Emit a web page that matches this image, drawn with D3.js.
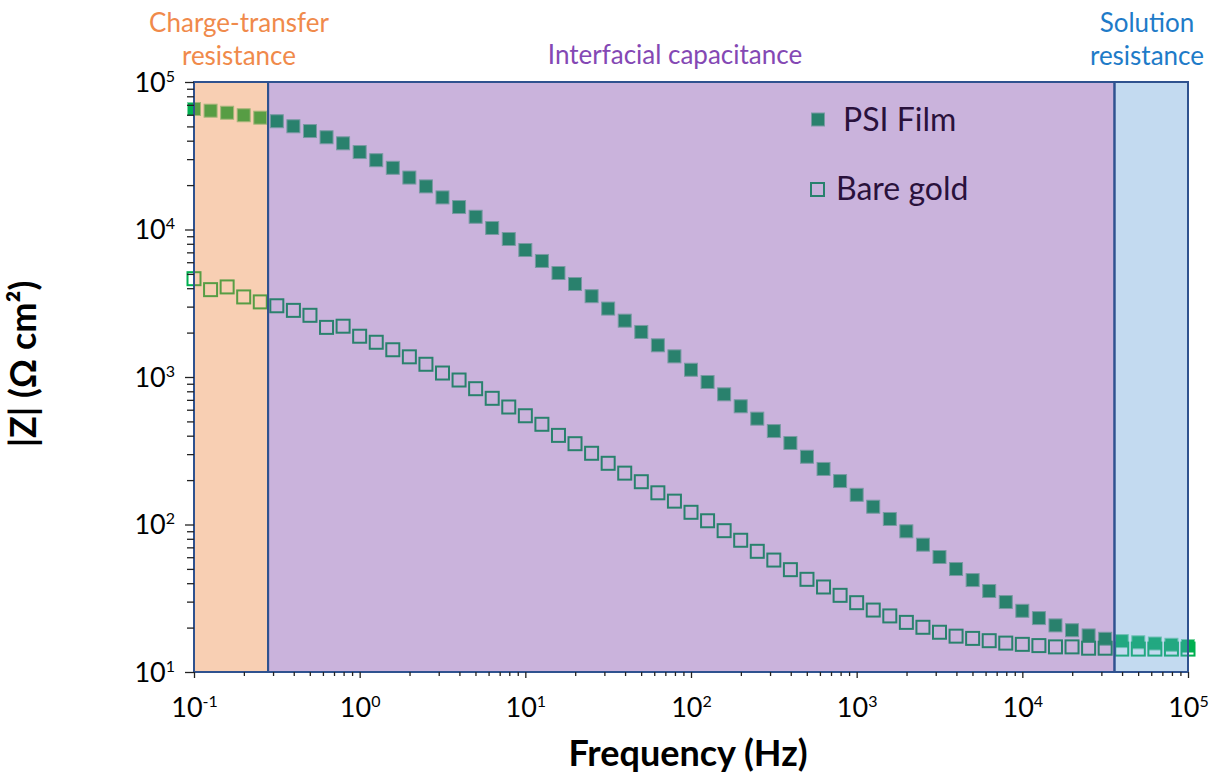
<!DOCTYPE html>
<html>
<head>
<meta charset="utf-8">
<script src="https://cdn.jsdelivr.net/npm/d3@7"></script>
<style>
  body { margin: 0; background: #fff; }
  svg { display: block; font-family: Lato, "Open Sans", sans-serif; }
</style>
</head>
<body>
<div id="chart"></div>
<script>
// frequency sweep (Hz), 10 points per decade
const freq = [0.1,0.1259,0.1585,0.1995,0.2512,0.3162,0.3981,0.5012,0.631,0.7943,
  1,1.259,1.585,1.995,2.512,3.162,3.981,5.012,6.31,7.943,
  10,12.59,15.85,19.95,25.12,31.62,39.81,50.12,63.1,79.43,
  100,125.9,158.5,199.5,251.2,316.2,398.1,501.2,631,794.3,
  1000,1259,1585,1995,2512,3162,3981,5012,6310,7943,
  10000,12590,15850,19950,25120,31620,39810,50120,63100,79430,100000]

// |Z| (ohm cm2)
const psiFilm = [65600,63900,61900,59500,57300,54200,50100,46500,42200,38400,
  33500,29500,26200,22500,19600,16500,14200,12200,10240,8620,
  7260,6120,5070,4270,3530,2910,2410,2020,1640,1380,
  1120,925,763,633,522,430,357,288,238,197,
  159,132,109,89.9,73,60.2,49.9,42,35.4,29.8,
  26,23.2,20.7,19.2,17.7,16.8,16.2,15.9,15.6,15.3,15.0]

const bareGold = [4640,3910,4080,3490,3230,3040,2830,2620,2170,2210,
  1890,1720,1530,1370,1220,1064,954,833,717,626,
  546,478,402,353,304,260,223,195,164,144,
  121,106,90.8,78.2,65.8,57.4,49.4,42.5,37.7,33.1,
  29.5,26.3,24,21.7,20.1,18.6,17.5,16.9,16.3,15.7,
  15.4,15.1,14.8,14.8,14.5,14.5,14.3,14.3,14.3,14.3,14.3]

const regionNames = ["Charge-transfer resistance","Interfacial capacitance","Solution resistance"]
const regionFrom = [0.1, 0.28, 36000]
const regionTo = [0.28, 36000, 100000]
const regionColors = ["#ED7D31","#7030A0","#5B9BD5"]

const xDomain = [0.1, 100000]
const yDomain = [10, 100000]
const majorX = [0.1,1,10,100,1000,10000,100000]
const majorY = [10,100,1000,10000,100000]

drawChart("#chart")

function drawChart(id){
  const canvas = {width:1211, height:774, margin:{top:82, right:23, bottom:102, left:194}}
  const svg = d3.select(id).append("svg").attr("width",canvas.width).attr("height",canvas.height)
  const sc = addScales(canvas)

  addSeries(svg,sc)
  addLegend(svg)
  addRegions(svg,sc)
  addAxes(svg,sc,canvas)
  addLabels(svg,sc)
}

function addScales(canvas){
  const xScale = d3.scaleLog().domain(xDomain)
    .range([canvas.margin.left, canvas.width - canvas.margin.right])
  const yScale = d3.scaleLog().domain(yDomain)
    .range([canvas.height - canvas.margin.bottom, canvas.margin.top])
  return {xScale,yScale}
}

function addSeries(svg,sc){
  const s = 13
  svg.append("g").selectAll("rect").data(psiFilm).enter().append("rect")
    .attr("x",(d,i) => sc.xScale(freq[i]) - s/2).attr("y",d => sc.yScale(d) - s/2)
    .attr("width",s).attr("height",s)
    .attr("fill","#00B050").attr("stroke","#7ed6a4").attr("stroke-width",1)

  svg.append("g").selectAll("rect").data(bareGold).enter().append("rect")
    .attr("x",(d,i) => sc.xScale(freq[i]) - s/2).attr("y",d => sc.yScale(d) - s/2)
    .attr("width",s).attr("height",s)
    .attr("fill","none").attr("stroke","#00B050").attr("stroke-width",2)
}

function addLegend(svg){
  svg.append("rect").attr("x",811.5).attr("y",113).attr("width",13).attr("height",13)
    .attr("fill","#00B050").attr("stroke","#7ed6a4").attr("stroke-width",1)
  svg.append("text").attr("x",843).attr("y",131).attr("font-size",32).attr("fill","#000")
    .text("PSI Film")

  svg.append("rect").attr("x",811).attr("y",183).attr("width",13).attr("height",13)
    .attr("fill","none").attr("stroke","#00B050").attr("stroke-width",2)
  svg.append("text").attr("x",836).attr("y",200).attr("font-size",32).attr("fill","#000")
    .text("Bare gold")
}

function addRegions(svg,sc){
  const [y0,y1] = sc.yScale.range()
  svg.append("g").selectAll("rect").data(regionNames).enter().append("rect")
    .attr("x",(d,i) => sc.xScale(regionFrom[i]))
    .attr("width",(d,i) => sc.xScale(regionTo[i]) - sc.xScale(regionFrom[i]))
    .attr("y",y1).attr("height",y0 - y1)
    .attr("fill",(d,i) => regionColors[i]).attr("fill-opacity",0.37)
    .attr("stroke","#2F528F").attr("stroke-width",2)
}

function supLabel(sel){
  sel.text(null)
  sel.append("tspan").text("10")
  sel.append("tspan").attr("dy",-10).attr("font-size",16).text(d => Math.round(Math.log10(d)))
}

function addAxes(svg,sc,canvas){
  const minorX = sc.xScale.ticks().filter(d => !majorX.includes(d))
  const minorY = sc.yScale.ticks().filter(d => !majorY.includes(d))
  const bottom = canvas.height - canvas.margin.bottom

  const gx = svg.append("g").attr("transform",`translate(0,${bottom})`)
  gx.append("g").call(d3.axisBottom(sc.xScale).tickValues(minorX).tickSize(4).tickFormat(""))
    .selectAll(".tick text").remove()
  const gxMajor = gx.append("g").call(d3.axisBottom(sc.xScale).tickValues(majorX).tickSize(6))
  gx.selectAll(".domain").remove()
  gx.selectAll(".tick line").attr("stroke","#222").attr("stroke-width",1.3)
  gxMajor.selectAll(".tick text").attr("y",45).attr("dy",0).attr("font-size",27)
    .attr("fill","#000").attr("font-family","Lato").call(supLabel)

  const gy = svg.append("g").attr("transform",`translate(${canvas.margin.left},0)`)
  gy.append("g").call(d3.axisLeft(sc.yScale).tickValues(minorY).tickSize(7).tickFormat(""))
    .selectAll(".tick text").remove()
  const gyMajor = gy.append("g").call(d3.axisLeft(sc.yScale).tickValues(majorY).tickSize(9))
  gy.selectAll(".domain").remove()
  gy.selectAll(".tick line").attr("stroke","#222").attr("stroke-width",1.3)
  gyMajor.selectAll(".tick text").attr("x",-19).attr("dy",9).attr("font-size",27)
    .attr("fill","#000").attr("font-family","Lato").call(supLabel)
}

function addLabels(svg,sc){
  svg.append("text").attr("x",688).attr("y",766).attr("text-anchor","middle")
    .attr("font-size",36).attr("font-weight","bold").text("Frequency (Hz)")

  svg.append("text").attr("transform","translate(36,364) rotate(-90)").attr("text-anchor","middle")
    .attr("font-size",36).attr("font-weight","bold").text("|Z| (\u03A9 cm\u00B2)")

  const topLabels = [
    {lines:["Charge-transfer","resistance"], x:239, color:"#F08A4B"},
    {lines:["Interfacial capacitance"], x:675, color:"#8448B4"},
    {lines:["Solution","resistance"], x:1147, color:"#1E7BC8"}
  ]
  topLabels.forEach(l => {
    const t = svg.append("text").attr("text-anchor","middle").attr("font-size",26).attr("fill",l.color)
    if(l.lines.length === 1){
      t.append("tspan").attr("x",l.x).attr("y",64).text(l.lines[0])
    } else {
      t.append("tspan").attr("x",l.x).attr("y",32).text(l.lines[0])
      t.append("tspan").attr("x",l.x).attr("y",65).text(l.lines[1])
    }
  })
}
</script>
</body>
</html>
